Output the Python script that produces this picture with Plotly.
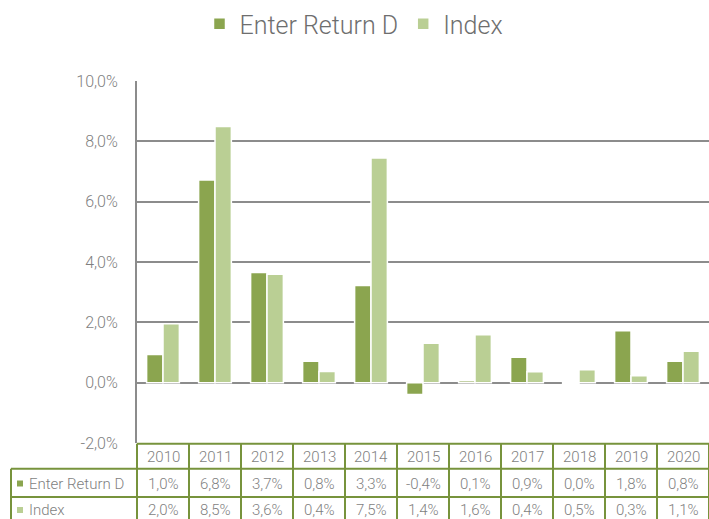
import plotly.graph_objects as go

years = ["2010", "2011", "2012", "2013", "2014", "2015", "2016", "2017", "2018", "2019", "2020"]
enter_values = [0.93, 6.72, 3.65, 0.71, 3.22, -0.39, 0.06, 0.84, -0.05, 1.72, 0.71]
index_values = [1.95, 8.49, 3.59, 0.37, 7.45, 1.31, 1.59, 0.36, 0.43, 0.23, 1.04]
enter_labels = ["1,0%", "6,8%", "3,7%", "0,8%", "3,3%", "-0,4%", "0,1%", "0,9%", "0,0%", "1,8%", "0,8%"]
index_labels = ["2,0%", "8,5%", "3,6%", "0,4%", "7,5%", "1,4%", "1,6%", "0,4%", "0,5%", "0,3%", "1,1%"]
y_ticks = [-2, 0, 2, 4, 6, 8, 10]
y_ticktext = ["-2,0%", "0,0%", "2,0%", "4,0%", "6,0%", "8,0%", "10,0%"]
series_names = ["Enter Return D", "Index"]

C_ENTER = "#8BA54F"
C_INDEX = "#BACF94"
C_BORDER = "#77933C"
C_GRID = "#8C8C8C"
C_TEXT = "#7F7F7F"
FONT = "Roboto"

W, H = 709, 519
ML, MR, MT, MB = 137, 0, 81, 76
PH = H - MT - MB
PW = W - ML - MR


def py(pix):
    return (H - MB - pix) / PH


def px(pix):
    return (pix - ML) / PW


fig = go.Figure()
fig.add_trace(go.Bar(x=years, y=enter_values, name=series_names[0],
                     marker=dict(color=C_ENTER, line=dict(color="white", width=1.5))))
fig.add_trace(go.Bar(x=years, y=index_values, name=series_names[1],
                     marker=dict(color=C_INDEX, line=dict(color="white", width=1.5))))

shapes = []
anns = []
row_tops = [443.7, 468.7, 497.0]
bottom = 540
lw = 2
# horizontal borders
shapes.append(dict(type="line", xref="paper", yref="paper", x0=0, x1=1, y0=py(row_tops[0]), y1=py(row_tops[0]),
                   line=dict(color=C_BORDER, width=lw)))
for r in row_tops[1:]:
    shapes.append(dict(type="line", xref="paper", yref="paper", x0=px(11), x1=1, y0=py(r), y1=py(r),
                       line=dict(color=C_BORDER, width=lw)))
# vertical borders
shapes.append(dict(type="line", xref="paper", yref="paper", x0=px(11), x1=px(11), y0=py(row_tops[1]), y1=py(bottom),
                   line=dict(color=C_BORDER, width=lw)))
shapes.append(dict(type="line", xref="paper", yref="paper", x0=0, x1=0, y0=py(row_tops[0]), y1=py(bottom),
                   line=dict(color=C_BORDER, width=lw)))
for i in range(len(years)):
    shapes.append(dict(type="line", xref="x", yref="paper", x0=i + 0.5, x1=i + 0.5, y0=py(row_tops[0]), y1=py(bottom),
                       line=dict(color=C_BORDER, width=lw)))

tfont = dict(size=15, color=C_TEXT, family=FONT, weight=300)
row_centers = [456.5, 483.5, 510.0]
for i, yr in enumerate(years):
    anns.append(dict(x=i, y=py(row_centers[0]), xref="x", yref="paper", text=yr, showarrow=False,
                     xanchor="center", yanchor="middle", font=tfont))
    anns.append(dict(x=i, y=py(row_centers[1]), xref="x", yref="paper", text=enter_labels[i], showarrow=False,
                     xanchor="center", yanchor="middle", font=tfont))
    anns.append(dict(x=i, y=py(row_centers[2]), xref="x", yref="paper", text=index_labels[i], showarrow=False,
                     xanchor="center", yanchor="middle", font=tfont))

for name, col, rc in [(series_names[0], C_ENTER, row_centers[1]), (series_names[1], C_INDEX, row_centers[2])]:
    shapes.append(dict(type="rect", xref="paper", yref="paper", x0=px(17), x1=px(23), y0=py(rc + 3), y1=py(rc - 3),
                       fillcolor=col, line=dict(width=0)))
    anns.append(dict(x=px(27), y=py(rc), xref="paper", yref="paper", text=name, showarrow=False,
                     xanchor="left", yanchor="middle", font=tfont))

fig.update_layout(
    width=W, height=H,
    margin=dict(l=ML, r=MR, t=MT, b=MB, autoexpand=False),
    paper_bgcolor="white", plot_bgcolor="white",
    barmode="group", bargap=0.37, bargroupgap=0.0,
    font=dict(family=FONT, color=C_TEXT),
    legend=dict(orientation="h", x=px(354), xanchor="center", y=py(24), yanchor="middle",
                font=dict(size=25, color="#6E6E6E", family=FONT, weight=300), itemwidth=30),
    xaxis=dict(type="category", range=[-0.5, 10.5], showticklabels=False, showgrid=False, showline=False,
               zeroline=False, ticks=""),
    yaxis=dict(range=[-2, 10], tickvals=y_ticks, ticktext=y_ticktext, showgrid=True, gridcolor=C_GRID, gridwidth=1.5,
               zeroline=True, zerolinecolor=C_GRID, zerolinewidth=1.5,
               showline=True, linecolor=C_GRID, linewidth=2, ticks="", ticklabelstandoff=14,
               tickfont=dict(size=16, color=C_TEXT, family=FONT, weight=300)),
    shapes=shapes, annotations=anns,
)

fig.write_html("out.html", config={"displayModeBar": False},
               post_script="document.body.style.margin='0px';document.body.style.overflow='hidden';")
